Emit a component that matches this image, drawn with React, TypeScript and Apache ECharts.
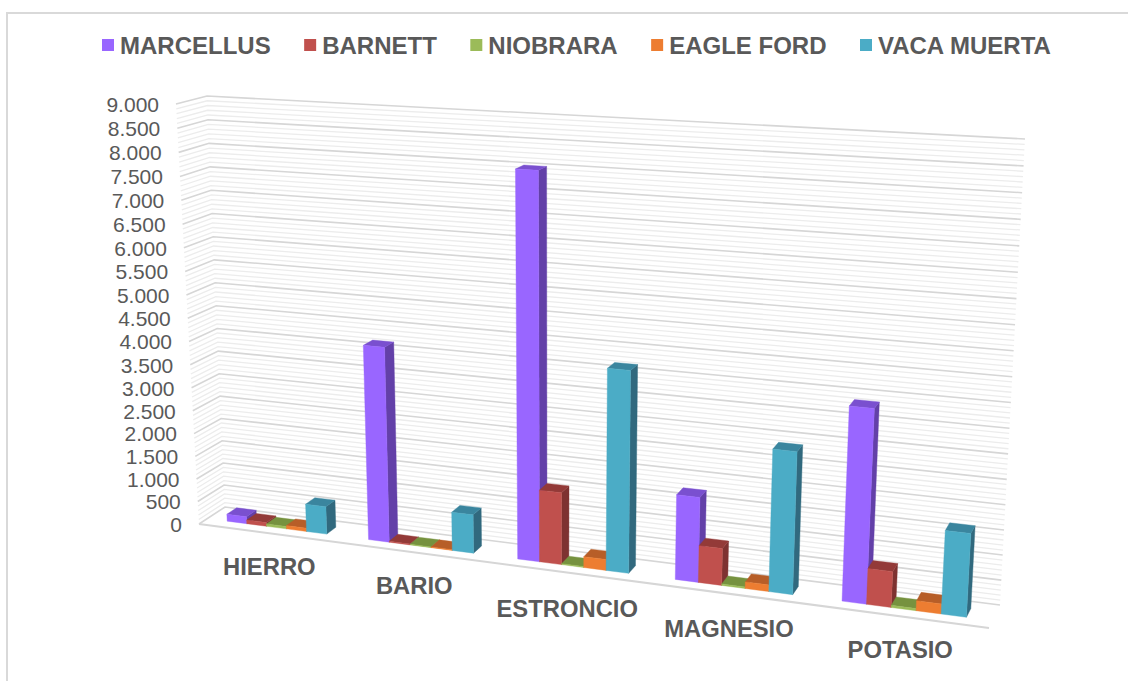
import React, { useEffect, useRef } from "react";
import * as echarts from "echarts";

const categories = ["HIERRO", "BARIO", "ESTRONCIO", "MAGNESIO", "POTASIO"];
const marcellus = [155, 4166, 8019, 1745, 3880];
const barnett = [82, 20, 1510, 757, 717];
const niobrara = [52, 15, 20, 30, 42];
const eagleFord = [72, 15, 228, 135, 198];
const vacaMuerta = [600, 820, 4170, 2880, 1650];
const tickValues = [0, 500, 1000, 1500, 2000, 2500, 3000, 3500, 4000, 4500, 5000, 5500, 6000, 6500, 7000, 7500, 8000, 8500, 9000];
const tickLabels = ["0", "500", "1.000", "1.500", "2.000", "2.500", "3.000", "3.500", "4.000", "4.500", "5.000", "5.500", "6.000", "6.500", "7.000", "7.500", "8.000", "8.500", "9.000"];

const seriesDefs = [
  { name: "MARCELLUS", values: marcellus, front: "#9966FF", top: "#7A50CF", side: "#6340A8" },
  { name: "BARNETT", values: barnett, front: "#C0504D", top: "#933A38", side: "#7E3231" },
  { name: "NIOBRARA", values: niobrara, front: "#9BBB59", top: "#76923F", side: "#688539" },
  { name: "EAGLE FORD", values: eagleFord, front: "#ED7D31", top: "#B75E28", side: "#A9551F" },
  { name: "VACA MUERTA", values: vacaMuerta, front: "#4BACC6", top: "#3A859E", side: "#31697E" },
];

const GRID = { left: 199, right: 989, top: 104, bottom: 524 };
const TEXT = "#595959";
const FONT = '"Liberation Sans", Arial, sans-serif';

// Corners of the box the columns stand in: floor and ceiling, front and back.
const floorFL = [199, 524], floorFR = [989, 628], floorBL = [225, 507], floorBR = [1000, 605];
const ceilFL = [176, 104], ceilFR = [1016, 150], ceilBL = [207, 96], ceilBR = [1025, 139];

const mix = (a: number[], b: number[], t: number) => [a[0] + (b[0] - a[0]) * t, a[1] + (b[1] - a[1]) * t];
// Nearer categories are wider: a one-dimensional perspective along the floor.
const warp = (t: number) => (0.87 * t) / (1 - 0.13 * t);
// The same foreshortening up the wall: upper ticks sit slightly further apart.
const lift = (h: number) => (0.96 * h) / (1 - 0.04 * h);

function project(t: number, d: number, h: number) {
  const u = warp(t);
  const floor = mix(mix(floorFL, floorFR, u), mix(floorBL, floorBR, u), d);
  const ceil = mix(mix(ceilFL, ceilFR, u), mix(ceilBL, ceilBR, u), d);
  return mix(floor, ceil, lift(h));
}

const heightOf = (y: number) => (GRID.bottom - y) / (GRID.bottom - GRID.top);
const tOf = (x: number) => (x - GRID.left) / (GRID.right - GRID.left);

const BAR_SHARE = 0.142;
const SIDE_MARGIN = (1 - 5 * BAR_SHARE) / 2;
const DEPTH_FRONT = 0.32;
const DEPTH_BACK = 0.7;
// Category names drop a little unevenly below the front edge of the floor.
const NAME_DROP = [33.5, 33.5, 36.5, 34.5, 33.5];

function columnRenderer(def: (typeof seriesDefs)[number], barIndex: number) {
  return (_params: any, api: any) => {
    const [cx, y] = api.coord([api.value(0), api.value(1)]);
    const band = api.size([1, 0])[0];
    const left = cx - band / 2 + band * (SIDE_MARGIN + barIndex * BAR_SHARE);
    const t0 = tOf(left);
    const t1 = tOf(left + band * BAR_SHARE);
    const h = heightOf(y);
    const f0 = project(t0, DEPTH_FRONT, 0), f1 = project(t1, DEPTH_FRONT, 0);
    const b1 = project(t1, DEPTH_BACK, 0);
    const a0 = project(t0, DEPTH_FRONT, h), a1 = project(t1, DEPTH_FRONT, h);
    const c0 = project(t0, DEPTH_BACK, h), c1 = project(t1, DEPTH_BACK, h);
    const face = (points: number[][], fill: string) => ({
      type: "polygon",
      shape: { points },
      style: { fill, stroke: fill, lineWidth: 0.4 },
    });
    return {
      type: "group",
      children: [
        face([f1, b1, c1, a1], def.side),
        face([a0, a1, c1, c0], def.top),
        face([f0, f1, a1, a0], def.front),
      ],
    };
  };
}

export default function App() {
  const ref = useRef<HTMLDivElement>(null);

  useEffect(() => {
    document.body.style.margin = "0";
    const chart = echarts.init(ref.current!, undefined, { renderer: "svg" });

    // One line per 100 units, a heavier one on each labelled tick.
    const wallLevels: number[][] = [];
    for (let v = 0; v <= 9000; v += 100) wallLevels.push([0, v]);

    chart.setOption({
      animation: false,
      backgroundColor: "#ffffff",
      color: seriesDefs.map((d) => d.front),
      graphic: [
        {
          type: "rect",
          silent: true,
          shape: { x: 7, y: 13, width: 1400, height: 900 },
          style: { fill: "none", stroke: "#d9d9d9", lineWidth: 2 },
        },
      ],
      legend: {
        data: seriesDefs.map((d) => d.name),
        left: 102,
        top: 33,
        padding: 0,
        icon: "rect",
        itemWidth: 12,
        itemHeight: 12,
        itemGap: 33.5,
        selectedMode: false,
        textStyle: { color: TEXT, fontFamily: FONT, fontWeight: "bold", fontSize: 24, padding: [0, 0, 0, 1] },
      },
      grid: {
        left: GRID.left,
        width: GRID.right - GRID.left,
        top: GRID.top,
        height: GRID.bottom - GRID.top,
      },
      xAxis: { type: "category", data: categories, show: false },
      yAxis: { type: "value", min: 0, max: 9000, interval: 500, show: false },
      series: [
        {
          type: "custom",
          name: "walls",
          silent: true,
          clip: false,
          z: 1,
          coordinateSystem: "cartesian2d",
          data: wallLevels,
          renderItem: (_p: any, api: any) => {
            const v = api.value(1);
            const h = heightOf(api.coord([0, v])[1]);
            const major = v % 500 === 0;
            const line = {
              type: "polyline",
              shape: { points: [project(0, 0, h), project(0, 1, h), project(1, 1, h)] },
              style: { fill: "none", stroke: major ? "#d6d6d6" : "#ececec", lineWidth: major ? 1.6 : 1.3 },
            };
            if (v !== 0) return line;
            return {
              type: "group",
              children: [
                line,
                {
                  type: "polyline",
                  shape: { points: [project(0, 0, 0), project(1, 0, 0)] },
                  style: { fill: "none", stroke: "#d6d6d6", lineWidth: 2 },
                },
              ],
            };
          },
        },
        {
          type: "custom",
          name: "ticks",
          silent: true,
          clip: false,
          z: 2,
          coordinateSystem: "cartesian2d",
          data: tickValues.map((v) => [0, v]),
          renderItem: (p: any, api: any) => {
            const y = api.coord([0, api.value(1)])[1];
            const at = project(0, 0, heightOf(y));
            return {
              type: "text",
              style: {
                text: tickLabels[p.dataIndex],
                x: at[0] - 17,
                y: at[1] + 0.3,
                align: "right",
                verticalAlign: "middle",
                fill: TEXT,
                fontFamily: FONT,
                fontSize: 21,
              },
            };
          },
        },
        {
          type: "custom",
          name: "categoryNames",
          silent: true,
          clip: false,
          z: 2,
          coordinateSystem: "cartesian2d",
          data: categories.map((_, i) => [i, 0]),
          renderItem: (p: any, api: any) => {
            const cx = api.coord([api.value(0), 0])[0];
            const at = project(tOf(cx), 0, 0);
            return {
              type: "text",
              style: {
                text: categories[p.dataIndex],
                x: at[0] + 0.7,
                y: at[1] + NAME_DROP[p.dataIndex],
                align: "center",
                verticalAlign: "middle",
                fill: TEXT,
                fontFamily: FONT,
                fontWeight: "bold",
                fontSize: 23.8,
              },
            };
          },
        },
        ...seriesDefs.map((def, i) => ({
          type: "custom",
          name: def.name,
          silent: true,
          clip: false,
          z: 3,
          coordinateSystem: "cartesian2d",
          itemStyle: { color: def.front },
          data: def.values.map((v, c) => [c, v]),
          renderItem: columnRenderer(def, i),
        })),
      ],
    });
    return () => chart.dispose();
  }, []);

  return <div ref={ref} style={{ position: "fixed", left: 0, top: 0, width: 1128, height: 681 }} />;
}
